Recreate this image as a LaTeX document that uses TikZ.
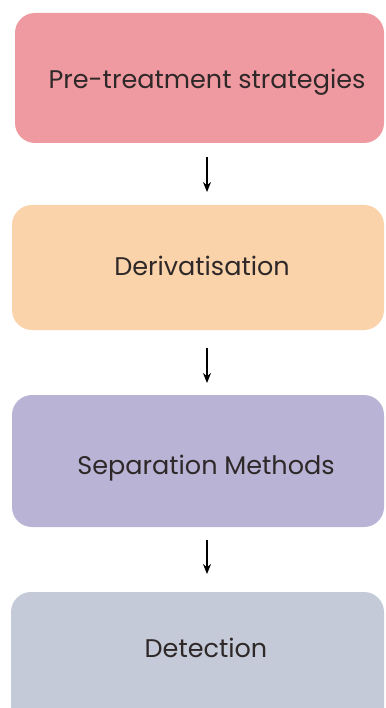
\documentclass[tikz,border=0pt]{standalone}
\usepackage{fontspec}
\setmainfont{Poppins}
\usetikzlibrary{arrows.meta}
\definecolor{c1}{HTML}{EF9AA0}
\definecolor{c2}{HTML}{FBD3AA}
\definecolor{c3}{HTML}{B9B4D6}
\definecolor{c4}{HTML}{C5CAD8}
\definecolor{txt}{HTML}{2E2828}
\tikzset{
  box/.style={rounded corners=20pt, inner sep=0pt, text=txt, font=\fontsize{25.5}{30}\selectfont},
  arr/.style={-{Stealth[length=10pt,width=8pt]}, line width=1.2pt, black},
}
\begin{document}
\begin{tikzpicture}[x=1pt,y=-1pt]
\useasboundingbox (0,0) rectangle (385,708);
\fill[c1, rounded corners=20pt] (15,13) rectangle (384,143);
\fill[c2, rounded corners=20pt] (12,205) rectangle (384,330);
\fill[c3, rounded corners=20pt] (12,395) rectangle (384,527);
\fill[c4, rounded corners=20pt] (11,592) rectangle (384,730);
\node[box] (t1) at (207,82) {Pre-treatment strategies};
\node[box] (t2) at (202,266) {Derivatisation};
\node[box] (t3) at (206,468) {Separation Methods};
\node[box] (t4) at (206,648) {Detection};
\coordinate (a1s) at (207,157); \coordinate (a1e) at (207,192);
\coordinate (a2s) at (207,348); \coordinate (a2e) at (207,383);
\coordinate (a3s) at (207,540); \coordinate (a3e) at (207,574);
\draw[arr] (a1s) -- (a1e);
\draw[arr] (a2s) -- (a2e);
\draw[arr] (a3s) -- (a3e);
\end{tikzpicture}
\end{document}
